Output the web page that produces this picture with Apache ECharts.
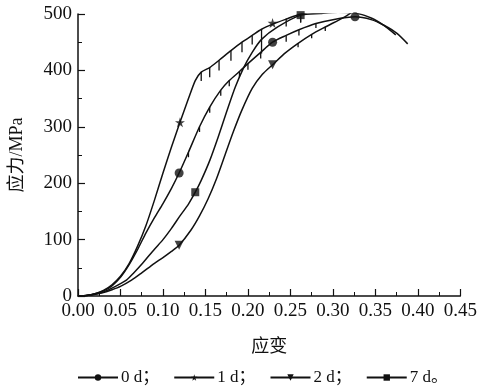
<!DOCTYPE html>
<html><head><meta charset="utf-8">
<script src="https://cdn.jsdelivr.net/npm/echarts@6/dist/echarts.min.js"></script>
<style>html,body{margin:0;padding:0;background:#fff}#c{width:480px;height:392px}</style>
</head><body><div id="c"></div>
<script>
// ---- data (strain, stress MPa) ----
const seriesNames = ['0 d；', '1 d；', '2 d；', '7 d。'];
const xTicks = [0, 0.05, 0.10, 0.15, 0.20, 0.25, 0.30, 0.35, 0.40, 0.45];
const yTicks = [0, 100, 200, 300, 400, 500];

const curve0d = [[0,0],[0.01,1],[0.02,4],[0.03,9],[0.04,18],[0.05,33],[0.06,55],[0.07,82],[0.08,112],[0.09,139],[0.10,164],[0.11,191],[0.119,218],
 [0.13,255],[0.143,300],[0.155,335],[0.168,365],[0.178,382],[0.19,398],[0.20,412],[0.215,432],[0.229,450],[0.245,462],[0.26,472],[0.28,483],
 [0.30,490],[0.326,495],[0.345,490],[0.36,480],[0.375,466],[0.388,447]];
const curve1d = [[0,0],[0.01,1],[0.02,4],[0.03,10],[0.04,20],[0.05,35],[0.06,57],[0.07,88],[0.08,125],[0.09,170],[0.10,218],[0.11,264],[0.12,308],
 [0.13,350],[0.138,382],[0.145,397],[0.155,405],[0.166,418],[0.18,435],[0.193,450],[0.205,462],[0.216,473],[0.229,482],[0.245,491],[0.262,500],
 [0.285,508],[0.306,514],[0.33,518]];
const curve2d = [[0,0],[0.01,1],[0.02,3],[0.03,6],[0.04,11],[0.05,17],[0.063,28],[0.075,41],[0.09,58],[0.10,68],[0.11,79],[0.119,90],[0.133,117],
 [0.143,142],[0.153,172],[0.163,208],[0.173,250],[0.183,292],[0.193,330],[0.205,368],[0.217,393],[0.229,410],[0.244,431],[0.259,448],
 [0.275,464],[0.291,477],[0.314,495],[0.327,508]];
const curve7d = [[0,0],[0.01,1],[0.02,3],[0.03,7],[0.04,14],[0.05,22],[0.057,28],[0.065,40],[0.076,58],[0.09,83],[0.10,100],[0.11,120],[0.12,142],
 [0.13,163],[0.138,184],[0.145,205],[0.155,240],[0.165,282],[0.175,327],[0.185,370],[0.195,405],[0.205,432],[0.216,455],[0.235,477],[0.262,498],
 [0.285,501],[0.306,503],[0.325,502],[0.345,493],[0.36,480],[0.374,463]];

// serration drops: [strain, top stress, bottom stress]
const drops0d = [[0.13,255,246],[0.143,300,291],[0.155,335,325],[0.168,365,355],[0.178,382,372],[0.19,398,388],[0.20,412,401],
 [0.215,432,421],[0.245,462,451],[0.26,472,462],[0.28,483,475]];
const drops1d = [[0.145,397,381],[0.155,405,388],[0.166,418,400],[0.18,435,417],[0.193,450,432],[0.205,462,446],[0.216,473,430],
 [0.245,491,478],[0.262,500,485]];
const drops2d = [[0.259,448,441],[0.275,464,457],[0.291,477,470]];
const drops7d = [[0.262,498,485]];

const marks0d = [[0.119,218],[0.229,450],[0.326,495]];
const marks1d = [[0.120,308],[0.229,484],[0.330,518]];
const marks2d = [[0.119,90],[0.229,410],[0.327,508]];
const marks7d = [[0.138,184],[0.262,498]];

// ---- chart ----
const STAR = 'path://M50,0 L61,35 L98,35 L68,57 L79,91 L50,70 L21,91 L32,57 L2,35 L39,35 Z';
const FONT = "'Liberation Serif','Noto Sans CJK SC',serif";
const INK = '#111';
const curves = [curve0d, curve1d, curve2d, curve7d];
const drops = [drops0d, drops1d, drops2d, drops7d];
const marks = [marks0d, marks1d, marks2d, marks7d];
const syms = ['circle', STAR, 'triangle', 'rect'];
const rots = [0, 0, 180, 0];
const sizes = [9, 10, 9, 8];

const series = [];
seriesNames.forEach((n, i) => {
  series.push({
    name: n, type: 'line', data: curves[i], showSymbol: false, smooth: 0.25,
    symbol: syms[i], symbolRotate: rots[i], symbolSize: 6,
    lineStyle: { color: INK, width: 1.5 }, itemStyle: { color: INK },
    animation: false, z: 2
  });
});
seriesNames.forEach((n, i) => {
  const d = [];
  drops[i].forEach(p => { d.push([p[0], p[1]]); d.push([p[0], p[2]]); d.push([p[0], '-']); });
  series.push({
    name: n, type: 'line', data: d, showSymbol: false, connectNulls: false,
    lineStyle: { color: INK, width: 1.3 }, itemStyle: { color: INK }, animation: false, z: 2
  });
});
seriesNames.forEach((n, i) => {
  series.push({
    name: n, type: 'scatter', data: marks[i], symbol: syms[i], symbolRotate: rots[i],
    symbolSize: sizes[i], itemStyle: { color: INK }, animation: false, z: 3
  });
});

const chart = echarts.init(document.getElementById('c'), null, { renderer: 'canvas' });
chart.setOption({
  backgroundColor: '#fff',
  animation: false,
  textStyle: { fontFamily: FONT, color: INK },
  grid: { left: 78, right: 17, top: 14, bottom: 96 },
  xAxis: {
    type: 'value', min: xTicks[0], max: xTicks[xTicks.length - 1], interval: 0.05,
    name: '应变', nameLocation: 'middle', nameGap: 42,
    nameTextStyle: { fontFamily: FONT, fontSize: 18, color: INK },
    axisLine: { lineStyle: { color: INK, width: 1.5 } },
    axisTick: { inside: true, length: 7, lineStyle: { color: INK, width: 1.2 } },
    minorTick: { show: true, splitNumber: 2, length: 4, lineStyle: { color: INK } },
    splitLine: { show: false },
    axisLabel: { fontFamily: FONT, fontSize: 19, color: INK, margin: 6, formatter: v => v.toFixed(2) }
  },
  yAxis: {
    type: 'value', min: yTicks[0], max: yTicks[yTicks.length - 1], interval: 100,
    name: '应力/MPa', nameLocation: 'middle', nameGap: 52, nameRotate: 90,
    nameTextStyle: { fontFamily: FONT, fontSize: 18, color: INK },
    axisLine: { show: true, lineStyle: { color: INK, width: 1.5 } },
    axisTick: { show: true, inside: true, length: 7, lineStyle: { color: INK, width: 1.2 } },
    minorTick: { show: true, splitNumber: 2, length: 4, lineStyle: { color: INK } },
    splitLine: { show: false },
    axisLabel: { fontFamily: FONT, fontSize: 19, color: INK, margin: 6 }
  },
  legend: {
    bottom: 1, left: 72, itemWidth: 40, itemHeight: 8, itemGap: 14,
    data: seriesNames,
    textStyle: { fontFamily: FONT, fontSize: 17, color: INK, padding: [0, 0, 0, -2] }
  },
  series: series
});
</script></body></html>
